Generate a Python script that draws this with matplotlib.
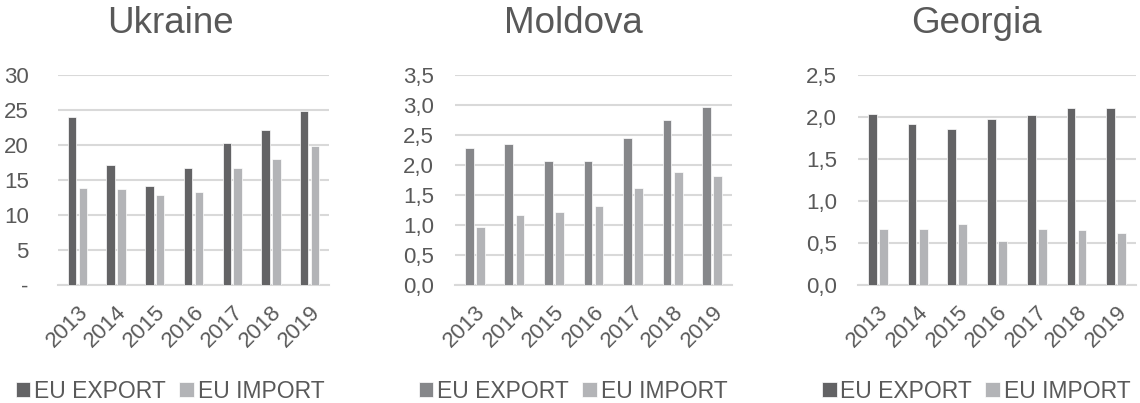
import numpy as np
import matplotlib
matplotlib.use("Agg")
import matplotlib.pyplot as plt
from matplotlib.ticker import FuncFormatter

plt.rcParams['font.family'] = ['Liberation Sans', 'DejaVu Sans']

years = ['2013', '2014', '2015', '2016', '2017', '2018', '2019']
countries = ['Ukraine', 'Moldova', 'Georgia']

# EU trade values
ukr_export = [24.0, 17.1, 14.1, 16.7, 20.3, 22.1, 24.8]
ukr_import = [13.9, 13.7, 12.9, 13.2, 16.7, 18.0, 19.8]
mda_export = [2.28, 2.35, 2.06, 2.06, 2.44, 2.75, 2.96]
mda_import = [0.97, 1.16, 1.22, 1.32, 1.62, 1.88, 1.82]
geo_export = [2.03, 1.91, 1.85, 1.97, 2.02, 2.11, 2.10]
geo_import = [0.67, 0.66, 0.73, 0.52, 0.66, 0.65, 0.62]

exports = [ukr_export, mda_export, geo_export]
imports = [ukr_import, mda_import, geo_import]
ymax = [30, 3.5, 2.5]
ystep = [5, 0.5, 0.5]

W, H = 1140, 403
txt = '#595959'
grid = '#d9d9d9'
exp_col = ['#636365', '#86878a', '#636365']
imp_col = '#b3b4b7'

# axes boxes in pixels: left, right
boxes = [(58, 329), (455, 732), (858, 1136)]
top, bottom = 74.7, 285
centers = [170, 573, 976]

fig = plt.figure(figsize=(W / 100, H / 100), dpi=100)

x = np.arange(len(years))
bw = 0.22
for i in range(3):
    l, r = boxes[i]
    ax = fig.add_axes([l / W, 1 - bottom / H, (r - l) / W, (bottom - top) / H])
    ax.bar(x - 0.14, exports[i], bw, color=exp_col[i], edgecolor='white', linewidth=0.5,
           label='EU EXPORT', zorder=3)
    ax.bar(x + 0.14, imports[i], bw, color=imp_col, edgecolor='white', linewidth=0.5,
           label='EU IMPORT', zorder=3)
    ax.set_xlim(-0.5, 6.5)
    ax.set_ylim(0, ymax[i])
    ax.set_yticks(np.arange(0, ymax[i] + 1e-9, ystep[i]))
    if i == 0:
        ax.yaxis.set_major_formatter(FuncFormatter(lambda v, p: '-' if v == 0 else f'{v:.0f}'))
    else:
        ax.yaxis.set_major_formatter(FuncFormatter(lambda v, p: f'{v:.1f}'.replace('.', ',')))
    ax.grid(axis='y', color=grid, linewidth=1.5, zorder=0)
    for s in ['top', 'right', 'left']:
        ax.spines[s].set_visible(False)
    ax.spines['bottom'].set_color(grid)
    ax.spines['bottom'].set_linewidth(1.5)
    ax.tick_params(length=0, labelsize=16, colors=txt)
    ax.tick_params(axis='y', pad=15 if i else 21)
    ax.set_xticks(x)
    ax.set_xticklabels(years, rotation=45, ha='right', rotation_mode='anchor')
    ax.tick_params(axis='x', pad=12)
    fig.text(centers[i] / W, 1 - 33 / H, countries[i], ha='center', va='baseline',
             fontsize=26.5, color=txt)
    ax.legend(loc='center', bbox_to_anchor=(centers[i] / W, 1 - 391 / H),
              bbox_transform=fig.transFigure, ncol=2, frameon=False, fontsize=16.5,
              handlelength=0.65, handleheight=0.65, handletextpad=0.15,
              columnspacing=0.6, labelcolor=txt, borderpad=0, borderaxespad=0)

fig.savefig('out.png', dpi=100)
